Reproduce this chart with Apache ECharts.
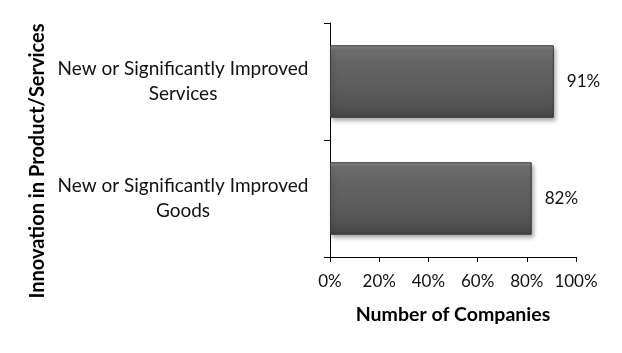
<!DOCTYPE html>
<html>
<head>
<meta charset="utf-8">
<script src="https://cdn.jsdelivr.net/npm/echarts@6/dist/echarts.min.js"></script>
<style>
html,body{margin:0;padding:0;background:#fff;}
#c{width:622px;height:353px;}
</style>
</head>
<body>
<div id="c"></div>
<script>
const categories = ['New or Significantly Improved\nGoods', 'New or Significantly Improved\nServices'];
const values = [82, 91];
const xTicks = [0, 20, 40, 60, 80, 100];
const xAxisTitle = 'Number of Companies';
const yAxisTitle = 'Innovation in Product/Services';

const FONT = 'Lato';
const chart = echarts.init(document.getElementById('c'), null, {renderer: 'canvas'});
chart.setOption({
  animation: false,
  backgroundColor: '#fff',
  grid: {left: 330, right: 46, top: 23, bottom: 96, containLabel: false},
  xAxis: {
    type: 'value',
    min: xTicks[0], max: xTicks[xTicks.length - 1], interval: 20,
    name: xAxisTitle, nameLocation: 'middle', nameGap: 48,
    nameTextStyle: {fontFamily: FONT, fontSize: 19.5, fontWeight: 'bold', color: '#000'},
    axisLine: {show: true, lineStyle: {color: '#000', width: 1}},
    axisTick: {show: true, length: 5, lineStyle: {color: '#000'}},
    axisLabel: {formatter: '{value}%', fontFamily: FONT, fontSize: 17, color: '#111', margin: 16},
    splitLine: {show: false}
  },
  yAxis: {
    type: 'category',
    data: categories,
    name: yAxisTitle, nameLocation: 'middle', nameGap: 282,
    nameTextStyle: {fontFamily: FONT, fontSize: 20, fontWeight: 'bold', color: '#000', padding: [0, 42, 0, 0]},
    axisLine: {show: true, lineStyle: {color: '#000', width: 1}},
    axisTick: {show: true, length: 6, lineStyle: {color: '#000'}},
    axisLabel: {fontFamily: FONT, fontSize: 19, color: '#111', align: 'center', margin: 147, lineHeight: 25}
  },
  series: [{
    type: 'bar',
    data: values,
    barCategoryGap: '38%',
    itemStyle: {
      color: new echarts.graphic.LinearGradient(0, 0, 0, 1, [
        {offset: 0, color: '#8a8a8a'},
        {offset: 0.08, color: '#6e6e6e'},
        {offset: 0.25, color: '#646464'},
        {offset: 0.6, color: '#5c5c5c'},
        {offset: 0.85, color: '#525252'},
        {offset: 1, color: '#444'}
      ]),
      borderColor: '#3a3a3a', borderWidth: 1,
      shadowColor: 'rgba(0,0,0,0.35)', shadowBlur: 4, shadowOffsetX: 2, shadowOffsetY: 3
    },
    label: {
      show: true, position: 'right', distance: 13,
      formatter: '{c}%', fontFamily: FONT, fontSize: 17, color: '#111'
    }
  }]
});
</script>
</body>
</html>
